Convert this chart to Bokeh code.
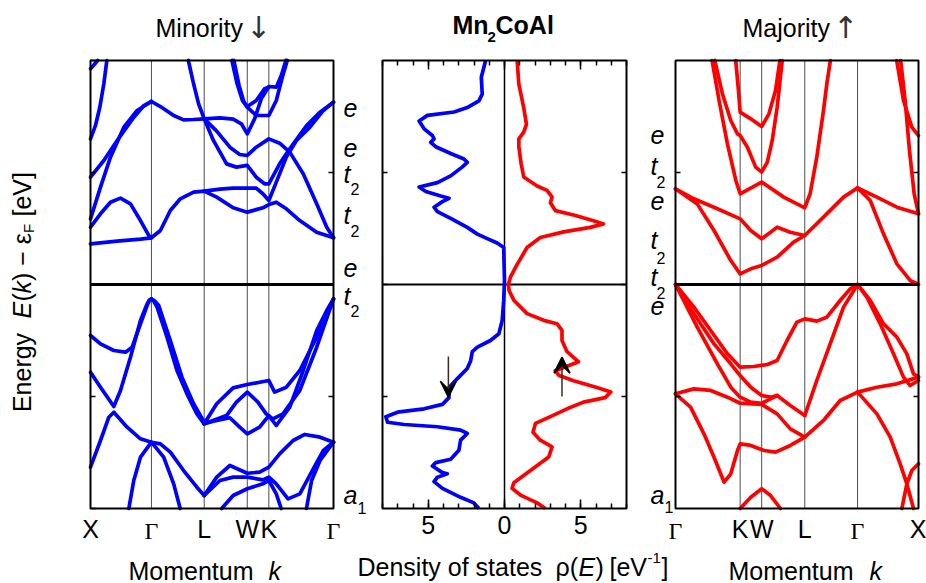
import numpy as np
from bokeh.plotting import figure
from bokeh.models import (Label, LinearAxis, FixedTicker, Range1d, Arrow, VeeHead,
                          CustomLabelingPolicy)
from bokeh.embed import file_html
from bokeh.resources import INLINE

SANS = "Liberation Sans"
SERIF = "Liberation Serif"
ARROWFONT = "DejaVu Sans"
BLUE = "#0000ff"
RED = "#ff0000"
FS = "25px"

# ---------------- data ----------------
MIN_SYM_K = [0.0, 1.0, 1.866, 2.573, 2.927, 3.988]
MIN_SYM_NAMES = ["X", "Γ", "L", "W", "K", "Γ"]
MAJ_SYM_K = [0.0, 1.061, 1.414, 2.121, 2.987, 3.987]
MAJ_SYM_NAMES = ["Γ", "K", "W", "L", "Γ", "X"]

ENERGY_TICKS = [-2, -1, 0, 1, 2]
ENERGY_TICK_LABELS = {2: "2", 0: "0", -2: "-2"}
DOS_TICKS = [-5, 0, 5]
DOS_TICK_LABELS = {-5: "5", 0: "0", 5: "5"}
DOS_MINOR_TICKS = list(range(-8, 9))

MIN_BANDS_K = [
    [0.0, 0.118],
    [0.0, 0.082, 0.153, 0.219, 0.268],
    [0.0, 0.219, 0.438, 0.712, 0.876, 1.0],
    [0.0, 0.164, 0.328, 0.547, 0.766, 1.0],
    [1.0, 1.147, 1.365, 1.528, 1.692, 1.866],
    [1.606, 1.692, 1.774, 1.866],
    [1.866, 2.125, 2.341, 2.476, 2.573, 2.693, 2.802, 2.927, 3.049, 3.131, 3.207],
    [2.321, 2.406, 2.493, 2.573, 2.720, 2.856, 2.927],
    [2.353, 2.438, 2.519, 2.573, 2.720, 2.927, 3.049, 3.148, 3.229],
    [1.866, 2.071, 2.287, 2.449, 2.573, 2.720, 2.927, 3.104, 3.270, 3.491, 3.712, 3.877, 3.988],
    [1.866, 2.017, 2.233, 2.395, 2.573, 2.720, 2.856, 2.927, 3.104, 3.270, 3.546, 3.767, 3.988],
    [0.0, 0.437, 0.820, 1.0, 1.147, 1.310, 1.474, 1.692, 1.866, 2.071, 2.341, 2.573, 2.829, 2.927,
     3.049, 3.214, 3.435, 3.712, 3.988],
    [0.0, 0.164, 0.328, 0.492, 0.656, 0.820, 0.956, 1.0],
    [1.866, 2.125, 2.341, 2.573, 2.720, 2.829, 2.927, 3.049, 3.214, 3.380, 3.601, 3.822, 3.988],
    [0.0, 0.164, 0.383, 0.574, 0.683, 0.820, 0.929, 0.965, 1.0, 1.04, 1.093, 1.256, 1.419, 1.583,
     1.746, 1.866],
    [0.0, 0.164, 0.383, 0.492, 0.656, 0.820, 0.929, 0.965, 1.0, 1.05, 1.12, 1.310, 1.501, 1.692, 1.866],
    [1.866, 2.017, 2.287, 2.449, 2.573, 2.775, 2.927, 3.049, 3.270, 3.491, 3.712, 3.877, 3.988],
    [1.866, 2.071, 2.341, 2.573, 2.927, 3.021, 3.214, 3.435, 3.712, 3.988],
    [1.866, 2.233, 2.395, 2.573, 2.747, 2.883, 2.993, 3.159, 3.435, 3.712, 3.988],
    [0.0, 0.164, 0.301, 0.383, 0.601, 0.820, 1.0, 1.147, 1.310, 1.528, 1.746, 1.866],
    [0.629, 0.710, 0.820, 1.0],
    [1.0, 1.201, 1.365, 1.472],
    [1.866, 2.071, 2.287, 2.573, 2.775, 2.927, 3.104, 3.325, 3.518, 3.767, 3.988],
    [1.866, 2.125, 2.341, 2.573, 2.829, 2.927, 3.049, 3.242, 3.435, 3.656, 3.822, 3.988],
    [2.153, 2.341, 2.573, 2.829, 2.927, 3.049, 3.129],
    [3.988, 3.767, 3.629, 3.544],
]
MIN_BANDS_E = [
    [1.926, 2.0],
    [1.30, 1.42, 1.583, 1.792, 2.0],
    [0.958, 1.107, 1.286, 1.494, 1.598, 1.634],
    [0.586, 0.869, 1.137, 1.405, 1.554, 1.634],
    [1.634, 1.589, 1.509, 1.47, 1.473, 1.479],
    [2.0, 1.792, 1.613, 1.479],
    [1.479, 1.488, 1.476, 1.435, 1.345, 1.479, 1.658, 1.768, 1.762, 1.866, 2.0],
    [2.0, 1.792, 1.643, 1.589, 1.643, 1.747, 1.762],
    [2.0, 1.777, 1.628, 1.583, 1.509, 1.509, 1.643, 1.851, 2.0],
    [1.479, 1.369, 1.226, 1.161, 1.152, 1.226, 1.30, 1.262, 1.182, 0.988, 0.72, 0.512, 0.417],
    [1.479, 1.286, 1.077, 1.048, 1.063, 0.958, 0.899, 0.899, 1.077, 1.211, 1.42, 1.539, 1.628],
    [0.363, 0.387, 0.405, 0.417, 0.482, 0.661, 0.765, 0.824, 0.833, 0.78, 0.685, 0.646, 0.685, 0.714,
     0.735, 0.676, 0.571, 0.467, 0.417],
    [0.512, 0.631, 0.735, 0.771, 0.72, 0.571, 0.438, 0.417],
    [0.833, 0.851, 0.86, 0.86, 0.86, 0.81, 0.75, 0.914, 1.137, 1.286, 1.405, 1.554, 1.628],
    [-0.455, -0.53, -0.589, -0.604, -0.56, -0.351, -0.188, -0.145, -0.128, -0.15, -0.202, -0.47,
     -0.768, -0.976, -1.155, -1.244],
    [-0.783, -0.917, -1.089, -0.946, -0.649, -0.321, -0.173, -0.14, -0.128, -0.145, -0.188, -0.5,
     -0.827, -1.065, -1.229],
    [-1.244, -1.22, -1.19, -1.274, -1.333, -1.274, -1.17, -1.259, -1.095, -0.768, -0.411, -0.232, -0.128],
    [-1.244, -1.065, -0.923, -0.893, -0.857, -0.961, -0.917, -0.768, -0.47, -0.128],
    [-1.244, -1.17, -1.05, -0.961, -1.05, -1.155, -1.2, -1.155, -0.946, -0.56, -0.128],
    [-1.631, -1.393, -1.185, -1.14, -1.274, -1.378, -1.408, -1.423, -1.497, -1.661, -1.81, -1.884],
    [-2.0, -1.75, -1.542, -1.408],
    [-1.408, -1.542, -1.78, -2.0],
    [-1.884, -1.72, -1.616, -1.685, -1.676, -1.631, -1.512, -1.393, -1.339, -1.363, -1.408],
    [-1.884, -1.75, -1.72, -1.72, -1.744, -1.72, -1.78, -1.914, -1.869, -1.646, -1.482, -1.408],
    [-2.0, -1.884, -1.824, -1.78, -1.75, -1.869, -2.0],
    [-1.408, -1.571, -1.75, -2.0],
]

MAJ_BANDS_K = [
    [0.0, 0.357, 0.632, 0.907, 1.061, 1.235, 1.414, 1.668, 1.938, 2.121, 2.428, 2.757, 2.987, 3.195,
     3.413, 3.632, 3.850, 3.987],
    [0.0, 0.302, 0.687, 1.061, 1.235, 1.414, 1.560, 1.668, 1.884, 2.121],
    [0.60, 0.715, 0.852, 0.990, 1.061, 1.414, 1.776, 2.121, 2.209, 2.318, 2.428, 2.483, 2.541],
    [2.987, 3.304, 3.632, 3.987],
    [3.629, 3.741, 3.877, 3.987],
    [3.694, 3.768, 3.839, 3.916, 3.987],
    [0.645, 0.770, 0.907, 1.017, 1.061, 1.180, 1.316, 1.414, 1.506, 1.587, 1.668, 1.751],
    [0.988, 1.028, 1.061, 1.235, 1.414, 1.533, 1.641, 1.713],
    [0.0, 0.302, 0.577, 0.852, 1.061, 1.289, 1.506, 1.668, 1.830, 1.992, 2.121, 2.318, 2.483, 2.702,
     2.866, 2.987],
    [0.0, 0.302, 0.632, 0.907, 1.061, 1.235, 1.414, 1.560, 1.668, 1.884, 2.121],
    [0.0, 0.357, 0.687, 0.907, 1.061, 1.235, 1.414, 1.560, 1.668],
    [0.0, 0.302, 0.577, 0.852, 1.061, 1.414, 1.668, 1.884, 2.121],
    [0.0, 0.247, 0.467, 0.632, 0.797, 0.907, 1.017, 1.061, 1.235, 1.452, 1.641, 1.884, 2.121],
    [2.121, 2.428, 2.702, 2.987],
    [2.121, 2.318, 2.538, 2.757, 2.987],
    [2.987, 3.304, 3.632, 3.987],
    [2.987, 3.195, 3.413, 3.632, 3.796, 3.905, 3.987],
    [2.987, 3.140, 3.359, 3.577, 3.741, 3.850, 3.987],
    [2.987, 3.304, 3.523, 3.686, 3.796, 3.905],
    [3.987, 3.877, 3.796, 3.714],
    [1.061, 1.235, 1.414, 1.560, 1.722],
]
MAJ_BANDS_E = [
    [0.854, 0.72, 0.482, 0.214, 0.095, 0.14, 0.17, 0.244, 0.378, 0.4375, 0.601, 0.78, 0.863, 0.75,
     0.452, 0.185, 0.036, 0.0],
    [0.854, 0.765, 0.676, 0.586, 0.482, 0.408, 0.467, 0.512, 0.467, 0.4375],
    [2.0, 1.643, 1.256, 0.929, 0.81, 0.914, 0.78, 0.685, 0.81, 1.137, 1.554, 1.792, 2.0],
    [0.863, 0.78, 0.69, 0.631],
    [2.0, 1.643, 1.405, 1.33],
    [2.0, 1.643, 1.196, 0.81, 0.631],
    [2.0, 1.702, 1.464, 1.345, 1.33, 1.226, 1.048, 1.003, 1.092, 1.286, 1.583, 2.0],
    [2.0, 1.762, 1.539, 1.479, 1.411, 1.524, 1.732, 2.0],
    [0.0, -0.202, -0.411, -0.619, -0.738, -0.732, -0.714, -0.679, -0.5, -0.336, -0.307, -0.327, -0.292,
     -0.143, -0.039, 0.0],
    [0.0, -0.262, -0.53, -0.708, -0.813, -0.917, -0.991, -1.006, -0.991, -1.08, -1.17],
    [0.0, -0.381, -0.708, -0.917, -1.006, -1.05, -1.06, -1.021, -0.991],
    [-0.976, -0.932, -0.946, -1.006, -1.06, -1.071, -1.155, -1.289, -1.363],
    [-0.976, -1.095, -1.333, -1.542, -1.765, -1.69, -1.482, -1.423, -1.437, -1.482, -1.497, -1.437, -1.363],
    [-1.363, -1.214, -1.036, -0.961],
    [-1.17, -0.857, -0.53, -0.202, 0.0],
    [-0.961, -0.917, -0.887, -0.827],
    [0.0, -0.143, -0.351, -0.47, -0.619, -0.798, -0.827],
    [0.0, -0.113, -0.351, -0.619, -0.827, -0.902, -0.857],
    [-0.961, -1.155, -1.363, -1.601, -1.78, -2.0],
    [-1.601, -1.661, -1.78, -2.0],
    [-2.0, -1.899, -1.824, -1.884, -2.0],
]

# density of states: minority (drawn to the left) and majority (to the right)
DOS_MIN_E = [2.0, 1.85, 1.70, 1.64, 1.58, 1.54, 1.51, 1.46, 1.39, 1.33, 1.30, 1.27, 1.23, 1.17,
             1.12, 1.09, 1.05, 0.97, 0.91, 0.87, 0.83, 0.79, 0.77, 0.74, 0.69, 0.65, 0.59, 0.51, 0.45,
             0.41, 0.37, 0.33, 0.20, 0.036, -0.14, -0.32, -0.44, -0.50, -0.56, -0.60, -0.68, -0.75,
             -0.84, -0.92, -1.01, -1.07, -1.11, -1.14, -1.18, -1.23, -1.25, -1.27, -1.30, -1.33, -1.39,
             -1.48, -1.56, -1.59, -1.62, -1.68, -1.69, -1.72, -1.76, -1.82, -1.90, -1.95, -2.00]
DOS_MIN = [1.24, 1.52, 1.46, 1.68, 2.44, 3.31, 5.05, 5.60, 5.27, 4.73, 4.62, 4.84, 4.51, 3.53,
           2.66, 2.44, 2.76, 3.53, 4.40, 5.60, 5.16, 4.18, 3.64, 4.07, 4.62, 4.40, 3.53, 2.44, 1.78,
           1.13, 0.48, 0.05, 0.03, 0.0, 0.05, 0.15, 0.37, 0.92, 1.78, 2.11, 2.22, 2.44, 3.09, 3.64,
           3.64, 4.07, 5.27, 7.01, 7.78, 7.67, 6.58, 4.40, 2.88, 2.44, 2.88, 2.99, 3.53, 4.51, 4.73,
           4.07, 3.75, 4.40, 4.62, 4.07, 2.88, 2.01, 1.68]
DOS_MAJ_E = [2.0, 1.79, 1.58, 1.43, 1.36, 1.30, 1.23, 1.08, 0.96, 0.88, 0.84, 0.78, 0.73, 0.66,
             0.62, 0.57, 0.54, 0.51, 0.47, 0.42, 0.33, 0.18, 0.065, 0.0, -0.054, -0.14, -0.26, -0.32,
             -0.35, -0.41, -0.50, -0.60, -0.69, -0.73, -0.77, -0.81, -0.86, -0.92, -0.96, -1.01, -1.05,
             -1.11, -1.18, -1.24, -1.32, -1.39, -1.45, -1.54, -1.66, -1.77, -1.82, -1.88, -1.95, -2.00]
DOS_MAJ = [0.83, 0.94, 1.26, 1.44, 1.26, 0.94, 0.94, 1.09, 1.26, 2.14, 2.79, 3.12, 3.01, 3.33,
           4.53, 5.84, 6.49, 5.62, 3.88, 2.35, 1.48, 0.83, 0.39, 0.25, 0.30, 0.61, 1.48, 2.57, 3.44,
           3.77, 3.77, 4.10, 4.86, 4.10, 3.33, 3.55, 4.53, 6.06, 6.97, 6.60, 5.18, 4.10, 3.01, 2.03,
           1.87, 2.35, 3.12, 2.90, 1.70, 0.61, 0.50, 1.05, 2.14, 2.68]

SPIN_ARROW_X = [-3.68, 3.77]
SPIN_ARROW_E_START = [-0.643, -1.0]
SPIN_ARROW_E_END = [-1.006, -0.649]

# orbital character labels: (letter, subscript, centre y px, subscript centre y px)
MIN_ORBITALS = [("e", "", 107, 0), ("e", "", 147, 0), ("t", "2", 173, 188), ("t", "2", 214, 230),
                ("e", "", 267, 0), ("t", "2", 295, 310), ("a", "1", 494, 507)]
MAJ_ORBITALS = [("e", "", 134, 0), ("t", "2", 165, 181), ("e", "", 200, 0), ("t", "2", 239, 257),
                ("t", "2", 276, 292), ("e", "", 305, 0), ("a", "1", 494, 506)]

# ---------------- layout geometry (pixels) ----------------
W, H = 926, 583
TOP, BOTTOM = 60, 508
PANEL_PX = {"default": (90, 333), "dos": (382, 626), "maj": (675, 918)}
PANEL_LIM = {"default": (MIN_SYM_K[0], MIN_SYM_K[-1]), "dos": (-8, 8), "maj": (MAJ_SYM_K[0], MAJ_SYM_K[-1])}


def full_range(name):
    (l, r), (lo, hi) = PANEL_PX[name], PANEL_LIM[name]
    s = (hi - lo) / (r - l)
    return Range1d(lo - l * s, hi + (W - r) * s)


SE = 4.0 / (BOTTOM - TOP)
p = figure(width=W, height=H, x_range=full_range("default"),
           y_range=Range1d(-2 - (H - BOTTOM) * SE, 2 + TOP * SE),
           output_backend="svg", toolbar_location=None, min_border=0, title=None,
           x_axis_location=None, y_axis_location=None)
p.extra_x_ranges = {"dos": full_range("dos"), "maj": full_range("maj")}
p.grid.visible = False
p.outline_line_color = None
p.background_fill_color = "white"
p.border_fill_color = "white"

_l, _r = PANEL_PX["default"]
_lo, _hi = PANEL_LIM["default"]
_S = (_hi - _lo) / (_r - _l)


def px_x(px):
    return _lo + (px - _l) * _S


def px_y(py):
    return 2 - (py - TOP) * SE


HIDE_ALL = CustomLabelingPolicy(code="for (const i of indices) indices.unset(i)")


def axis(side, rng, loc, ticks, overrides=None, labels=True, tick_in=5, minor=None,
         minor_in=0, standoff=8, bounds=None):
    ax = LinearAxis(x_range_name=rng, fixed_location=loc)
    if bounds is not None:
        ax.bounds = bounds
    ax.ticker = FixedTicker(ticks=ticks, minor_ticks=minor or [])
    ax.axis_line_color = None
    ax.major_tick_in = tick_in
    ax.major_tick_out = 0
    ax.minor_tick_in = minor_in
    ax.minor_tick_out = 0
    ax.major_tick_line_width = 1.5
    ax.minor_tick_line_width = 1.5
    ax.major_tick_line_color = "black" if tick_in else None
    ax.minor_tick_line_color = "black" if minor else None
    if overrides is not None:
        ax.major_label_overrides = overrides
    ax.major_label_text_font = SANS
    ax.major_label_text_font_size = FS
    ax.major_label_text_color = "black"
    ax.major_label_standoff = standoff
    if not labels:
        ax.major_label_policy = HIDE_ALL
    p.add_layout(ax, side)
    return ax


def text(px, py, s, size=FS, style="normal", font=SANS, align="left", angle=0.0, rng="default",
         x=None, color="black"):
    p.add_layout(Label(x=px_x(px) if x is None else x, y=px_y(py), text=s, text_font=font,
                       text_font_size=size, text_font_style=style, text_align=align,
                       text_baseline="middle", angle=angle, angle_units="rad",
                       text_color=color, x_range_name=rng))


def band_panel(rng, sym_k, sym_names, bands_k, bands_e, color, left_labels):
    lo, hi = sym_k[0], sym_k[-1]
    inner = sym_k[1:-1]
    p.segment(x0=inner, y0=[-2] * len(inner), x1=inner, y1=[2] * len(inner),
              line_color="#4d4d4d", line_width=1, x_range_name=rng)
    p.multi_line(xs=bands_k, ys=bands_e, line_color=color, line_width=3.7,
                 line_join="round", line_cap="round", x_range_name=rng)
    p.segment(x0=[lo], y0=[0], x1=[hi], y1=[0], line_color="black", line_width=3, x_range_name=rng)
    p.quad(left=[lo], right=[hi], bottom=[-2], top=[2], fill_color=None, line_color="black",
           line_width=2, x_range_name=rng)
    named = [(k, n) for k, n in zip(sym_k, sym_names) if n != "Γ"]
    axis("below", rng, -2, [k for k, _ in named], {k: n for k, n in named}, tick_in=0, standoff=6)
    if left_labels:
        ax = axis("left", rng, lo, ENERGY_TICKS, ENERGY_TICK_LABELS, standoff=8)
        ax.major_label_policy = CustomLabelingPolicy(
            code="for (const i of indices) if (i % 2 == 1) indices.unset(i)")
    else:
        axis("left", rng, lo, [-1, 0, 1], labels=False)
    axis("right", rng, hi, [-1, 0, 1], labels=False)
    for k, n in zip(sym_k, sym_names):
        if n == "Γ":
            text(0, 530, "Γ", size="24px", font=SERIF, align="center", rng=rng, x=k)


# ---------------- minority panel ----------------
band_panel("default", MIN_SYM_K, MIN_SYM_NAMES, MIN_BANDS_K, MIN_BANDS_E, BLUE, True)
text(155, 27, "Minority")
text(258, 27, "↓", size="30px", font=ARROWFONT, align="center", color="#333333")
text(128, 570, "Momentum")
text(268, 570, "k", style="italic")
XC = 21
R = np.pi / 2
text(XC, 372, "Energy", align="center", angle=R)
text(XC, 318, "E", style="italic", angle=R)
text(XC, 301, "(", angle=R)
text(XC, 293, "k", style="italic", angle=R)
text(XC, 280.5, ") − ε", angle=R)
text(XC + 7, 232.5, "F", size="15px", angle=R)
text(XC, 216, "[eV]", angle=R)

# ---------------- DOS panel ----------------
p.segment(x0=[0], y0=[-2], x1=[0], y1=[2], line_color="black", line_width=1.5, x_range_name="dos")
p.segment(x0=[-8], y0=[0], x1=[8], y1=[0], line_color="black", line_width=2, x_range_name="dos")
p.line(x=[-v for v in DOS_MIN], y=DOS_MIN_E, line_color=BLUE, line_width=3.7, line_join="round",
       x_range_name="dos")
p.line(x=DOS_MAJ, y=DOS_MAJ_E, line_color=RED, line_width=3.7, line_join="round", x_range_name="dos")
p.quad(left=[-8], right=[8], bottom=[-2], top=[2], fill_color=None, line_color="black",
       line_width=2, x_range_name="dos")
axis("below", "dos", -2, DOS_TICKS, DOS_TICK_LABELS, tick_in=9, minor=DOS_MINOR_TICKS,
     minor_in=5, standoff=7, bounds=(-8, 8))
axis("above", "dos", 2, DOS_TICKS, labels=False, tick_in=9, minor=DOS_MINOR_TICKS, minor_in=5,
     bounds=(-8, 8))
axis("left", "dos", -8, [-1, 0, 1], labels=False)
axis("right", "dos", 8, [-1, 0, 1], labels=False)
for xa, y0, y1 in zip(SPIN_ARROW_X, SPIN_ARROW_E_START, SPIN_ARROW_E_END):
    p.add_layout(Arrow(end=VeeHead(size=16, line_color="black", fill_color="black", line_width=1.5),
                       x_start=xa, y_start=y0, x_end=xa, y_end=y1, x_range_name="dos",
                       line_color="#3b2a1e", line_width=1.5))
text(452, 24, "Mn", style="bold")
text(487, 36, "2", size="15px", style="bold")
text(495, 24, "CoAl", style="bold")
YC = 566
text(357, YC, "Density of states")
text(555, YC, "ρ(")
text(578, YC, "E", style="italic")
text(595, YC, ")")
text(609, YC, "[eV")
text(647, YC - 9, "-1", size="15px")
text(661, YC, "]")
for letter, sub, yc, ys in MIN_ORBITALS:
    text(343, yc, letter, style="italic")
    if sub:
        text(357 if letter == "a" else 350, ys, sub, size="16px")
for letter, sub, yc, ys in MAJ_ORBITALS:
    text(650, yc, letter, style="italic")
    if sub:
        text(664 if letter == "a" else 656, ys, sub, size="16px")

# ---------------- majority panel ----------------
band_panel("maj", MAJ_SYM_K, MAJ_SYM_NAMES, MAJ_BANDS_K, MAJ_BANDS_E, RED, False)
text(742, 27, "Majority")
text(845, 27, "↑", size="30px", font=ARROWFONT, align="center", color="#333333")
text(728, 570, "Momentum")
text(869, 570, "k", style="italic")

open("out.html", "w").write(file_html(p, INLINE))
